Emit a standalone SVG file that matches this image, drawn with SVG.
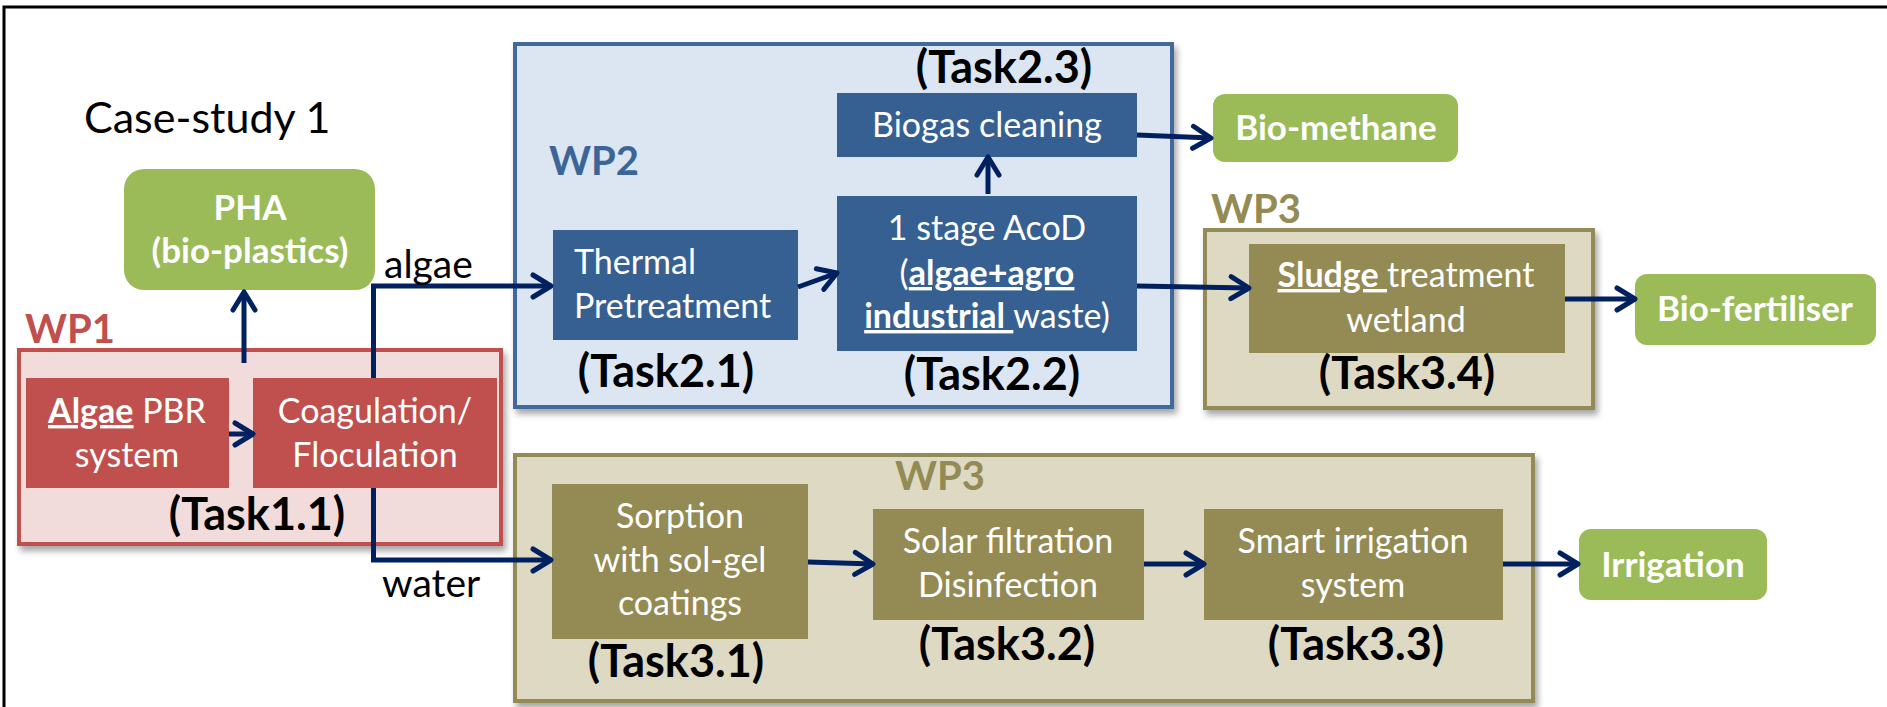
<svg xmlns="http://www.w3.org/2000/svg" width="1887" height="707" viewBox="0 0 1887 707">
<style>
text{font-family:Lato,"Open Sans","Liberation Sans",sans-serif}
.box{font-size:34px;fill:#fff;text-anchor:middle}
.task{font-size:45px;font-weight:bold;fill:#000;text-anchor:middle}
.wp{font-size:40px;font-weight:bold}
.prod{font-size:35px;font-weight:bold;fill:#fff;text-anchor:middle}
.lbl{font-size:39px;fill:#000}
.green{fill:#9bbb59}
.conn{fill:none;stroke:#002060;stroke-width:5;marker-end:url(#ah)}
.u{font-weight:bold;text-decoration:underline}
</style>
<defs>
<marker id="ah" viewBox="0 0 24 28" refX="21" refY="14" markerWidth="24" markerHeight="28" markerUnits="userSpaceOnUse" orient="auto">
<path d="M3,3 L21,14 L3,25" fill="none" stroke="#002060" stroke-width="5" stroke-linecap="round" stroke-linejoin="round"/>
</marker>
<filter id="sh" x="-5%" y="-5%" width="115%" height="120%">
<feDropShadow dx="3" dy="5" stdDeviation="3" flood-color="#000" flood-opacity="0.35"/>
</filter>
</defs>
<rect width="1887" height="707" fill="#fff"/>
<path d="M4,707 V7 H1887" fill="none" stroke="#000" stroke-width="3"/>

<text x="84" y="133" font-size="43" fill="#000">Case-study 1</text>

<g id="wp2">
<rect x="515" y="44" width="657" height="363" fill="#dce6f2" stroke="#41699c" stroke-width="4" filter="url(#sh)"/>
<text class="wp" x="549" y="175" fill="#3b6596">WP2</text>
</g>
<g id="wp1">
<rect x="19" y="350" width="482" height="194" fill="#f2dcdb" stroke="#c0504d" stroke-width="4" filter="url(#sh)"/>
<text class="wp" x="25" y="343" fill="#c0504d">WP1</text>
</g>
<g id="wp3a">
<rect x="1205" y="230" width="388" height="178" fill="#ddd9c3" stroke="#948a54" stroke-width="4" filter="url(#sh)"/>
<text class="wp" x="1211" y="223" fill="#948a54">WP3</text>
</g>
<g id="wp3b">
<rect x="515" y="455" width="1018" height="246" fill="#ddd9c3" stroke="#948a54" stroke-width="4" filter="url(#sh)"/>
<text class="wp" x="895" y="490" fill="#948a54">WP3</text>
</g>

<g id="pha">
<rect class="green" x="124" y="169" width="251" height="121" rx="20"/>
<text class="prod" x="250" y="220">PHA</text>
<text class="prod" x="250" y="263">(bio-plastics)</text>
</g>

<g id="algae-pbr">
<rect x="26" y="378" width="203" height="110" fill="#c0504d"/>
<text class="box" x="127" y="423"><tspan class="u">Algae</tspan> PBR</text>
<text class="box" x="127" y="467">system</text>
</g>
<g id="coag">
<rect x="253" y="378" width="244" height="110" fill="#c0504d"/>
<text class="box" x="375" y="423">Coagulation/</text>
<text class="box" x="375" y="467">Floculation</text>
</g>
<g id="task11"><text class="task" x="257" y="530">(Task1.1)</text></g>

<g id="thermal">
<rect x="553" y="230" width="245" height="110" fill="#376092"/>
<text class="box" x="574" y="274" style="text-anchor:start">Thermal</text>
<text class="box" x="574" y="318" style="text-anchor:start">Pretreatment</text>
</g>
<g id="task21"><text class="task" x="666" y="387">(Task2.1)</text></g>

<g id="acod">
<rect x="837" y="196" width="300" height="155" fill="#376092"/>
<text class="box" x="987" y="240">1 stage AcoD</text>
<text class="box" x="987" y="285">(<tspan class="u">algae+agro</tspan></text>
<text class="box" x="987" y="328"><tspan class="u">industrial </tspan>waste)</text>
</g>
<g id="task22"><text class="task" x="992" y="390">(Task2.2)</text></g>

<g id="biogas">
<rect x="837" y="93" width="300" height="64" fill="#376092"/>
<text class="box" x="987" y="137">Biogas cleaning</text>
</g>
<g id="task23"><text class="task" x="1004" y="83">(Task2.3)</text></g>

<g id="biomethane">
<rect class="green" x="1213" y="94" width="245" height="68" rx="12"/>
<text class="prod" x="1336" y="140">Bio-methane</text>
</g>

<g id="sludge">
<rect x="1249" y="244" width="316" height="109" fill="#948a54"/>
<text class="box" x="1406" y="287"><tspan class="u">Sludge </tspan>treatment</text>
<text class="box" x="1406" y="332">wetland</text>
</g>
<g id="task34"><text class="task" x="1407" y="389">(Task3.4)</text></g>

<g id="biofert">
<rect class="green" x="1635" y="274" width="241" height="71" rx="12"/>
<text class="prod" x="1755" y="321">Bio-fertiliser</text>
</g>

<g id="sorption">
<rect x="552" y="484" width="256" height="155" fill="#948a54"/>
<text class="box" x="680" y="528">Sorption</text>
<text class="box" x="680" y="572">with sol-gel</text>
<text class="box" x="680" y="615">coatings</text>
</g>
<g id="task31"><text class="task" x="676" y="677">(Task3.1)</text></g>

<g id="solar">
<rect x="873" y="509" width="271" height="111" fill="#948a54"/>
<text class="box" x="1008" y="553">Solar filtration</text>
<text class="box" x="1008" y="597">Disinfection</text>
</g>
<g id="task32"><text class="task" x="1007" y="660">(Task3.2)</text></g>

<g id="smart">
<rect x="1204" y="509" width="299" height="111" fill="#948a54"/>
<text class="box" x="1353" y="553">Smart irrigation</text>
<text class="box" x="1353" y="597">system</text>
</g>
<g id="task33"><text class="task" x="1356" y="660">(Task3.3)</text></g>

<g id="irrigation">
<rect class="green" x="1579" y="529" width="188" height="71" rx="12"/>
<text class="prod" x="1673" y="577">Irrigation</text>
</g>

<g id="connectors">
<path class="conn" d="M373.5,378 V286 H551"/>
<path class="conn" d="M373.5,488 V560 H551"/>
<path class="conn" d="M244,363 V292"/>
<path class="conn" d="M229,434 H253"/>
<path class="conn" d="M798,287 L837,273"/>
<path class="conn" d="M988,194 V157"/>
<path class="conn" d="M1137,135 L1211,138"/>
<path class="conn" d="M1137,286 L1249,288"/>
<path class="conn" d="M1565,299 H1635"/>
<path class="conn" d="M808,562 L873,564"/>
<path class="conn" d="M1144,564 H1204"/>
<path class="conn" d="M1503,564 H1578"/>
<text class="lbl" x="384" y="278">algae</text>
<text class="lbl" x="382" y="597">water</text>
</g>
</svg>
